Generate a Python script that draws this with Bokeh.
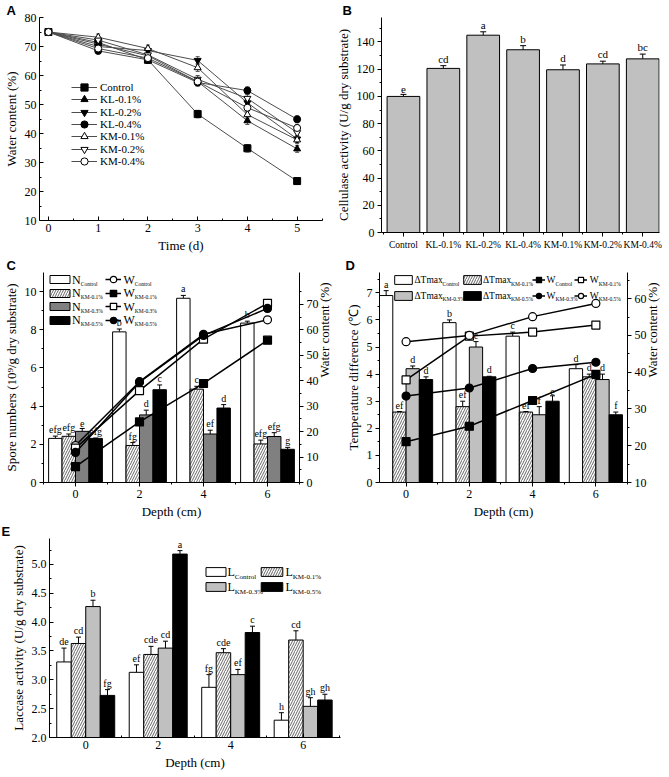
import math
from bokeh.plotting import figure
from bokeh.models import (ColumnDataSource, LinearAxis, Range1d, FixedTicker, Whisker,
                          TeeHead, Legend, LegendItem, Label, PrintfTickFormatter)
from bokeh.layouts import row, column
from bokeh.core.properties import value
from bokeh.embed import file_html
from bokeh.resources import INLINE

SERIF = "Liberation Serif"
SANS = "Liberation Sans"

# ---------------- Panel A data ----------------
time_days = [0, 1, 2, 3, 4, 5]
a_control = [75.0, 71.4, 65.4, 46.7, 34.9, 23.6]
a_kl01 = [75.0, 70.8, 66.8, 57.9, 44.4, 34.7]
a_kl02 = [75.0, 70.0, 68.6, 65.2, 50.6, 38.1]
a_kl04 = [75.0, 68.5, 65.4, 57.6, 54.8, 44.9]
a_km01 = [75.0, 73.2, 69.3, 62.7, 46.5, 37.8]
a_km02 = [75.0, 72.2, 67.1, 58.7, 52.1, 40.3]
a_km04 = [75.0, 69.3, 66.0, 57.9, 48.9, 41.9]
a_err = [0.4, 1.1, 1.2, 1.3, 1.3, 1.2]

# ---------------- Panel B data ----------------
b_treatments = ["Control", "KL-0.1%", "KL-0.2%", "KL-0.4%", "KM-0.1%", "KM-0.2%", "KM-0.4%"]
b_cellulase = [100.0, 120.6, 145.0, 134.3, 119.6, 123.9, 127.6]
b_err = [1.5, 2.0, 2.5, 3.0, 3.5, 2.0, 3.5]
b_letters = ["e", "cd", "a", "b", "d", "cd", "bc"]

# ---------------- Panel C data ----------------
depths = [0, 2, 4, 6]
c_n_control = [2.31, 7.89, 9.65, 8.35]
c_n_km01 = [2.42, 1.94, 4.89, 2.02]
c_n_km03 = [2.68, 3.54, 2.54, 2.41]
c_n_km05 = [2.31, 4.86, 3.90, 1.74]
c_err_control = [0.12, 0.15, 0.15, 0.10]
c_err_km01 = [0.12, 0.15, 0.15, 0.20]
c_err_km03 = [0.15, 0.25, 0.20, 0.20]
c_err_km05 = [0.02, 0.25, 0.18, 0.10]
c_let_control = ["efg", "b", "a", "b"]
c_let_km01 = ["efg", "fg", "c", "efg"]
c_let_km03 = ["e", "d", "ef", "efg"]
c_let_km05 = ["efg", "c", "d", "g"]
c_w_control = [14.5, 39.6, 58.2, 63.9]
c_w_km01 = [6.2, 23.8, 38.9, 55.9]
c_w_km03 = [13.5, 36.1, 56.3, 70.4]
c_w_km05 = [11.8, 39.4, 57.8, 68.4]

# ---------------- Panel D data ----------------
d_t_control = [6.9, 5.9, 5.4, 4.2]
d_t_km01 = [2.6, 2.8, 2.6, 3.9]
d_t_km03 = [4.2, 5.0, 2.5, 3.8]
d_t_km05 = [3.8, 3.9, 3.0, 2.5]
d_err_control = [0.18, 0.10, 0.15, 0.15]
d_err_km01 = [0.02, 0.20, 0.02, 0.10]
d_err_km03 = [0.10, 0.20, 0.30, 0.20]
d_err_km05 = [0.10, 0.02, 0.20, 0.10]
d_let_control = ["a", "b", "c", "d"]
d_let_km01 = ["ef", "ef", "ef", "d"]
d_let_km03 = ["d", "c", "f", "d"]
d_let_km05 = ["d", "d", "e", "f"]
d_w_control = [21.1, 25.3, 32.3, 39.4]
d_w_km01 = [37.9, 49.8, 50.9, 52.8]
d_w_km03 = [33.5, 35.7, 41.0, 42.7]
d_w_km05 = [48.3, 50.0, 55.1, 58.7]

# ---------------- Panel E data ----------------
e_l_control = [3.31, 3.13, 2.87, 2.30]
e_l_km01 = [3.63, 3.44, 3.47, 3.69]
e_l_km03 = [4.27, 3.55, 3.09, 2.54]
e_l_km05 = [2.73, 5.18, 3.82, 2.65]
e_err_control = [0.24, 0.13, 0.22, 0.13]
e_err_km01 = [0.11, 0.14, 0.07, 0.16]
e_err_km03 = [0.11, 0.12, 0.09, 0.15]
e_err_km05 = [0.10, 0.06, 0.11, 0.10]
e_let_control = ["de", "ef", "fg", "h"]
e_let_km01 = ["cd", "cde", "cde", "cd"]
e_let_km03 = ["b", "cd", "ef", "gh"]
e_let_km05 = ["fg", "a", "c", "gh"]


# ---------------- helpers ----------------
def base_fig(fw, fh, bl, br, bt, bb, xr, yr, letter, letter_dx=1):
    p = figure(frame_width=fw, frame_height=fh, min_border_left=bl, min_border_right=br,
               min_border_top=bt, min_border_bottom=bb,
               x_range=Range1d(*xr), y_range=Range1d(*yr),
               output_backend="svg", toolbar_location=None, tools="")
    p.outline_line_color = None
    p.xgrid.visible = False
    p.ygrid.visible = False
    p.background_fill_color = "white"
    p.border_fill_color = "white"
    # panel letter as the figure title, pushed into the left border
    p.title.text = letter
    p.title.text_font = SANS
    p.title.text_font_style = "bold"
    p.title.text_font_size = "13px"
    p.title.text_color = "black"
    p.title.align = "left"
    p.title.offset = -(bl - letter_dx)
    p.title.standoff = 0
    return p


def style_axis(ax, inward=True, label_size="12px", title_size="13px"):
    ax.axis_line_color = "black"
    ax.axis_line_width = 1
    ax.major_tick_line_color = "black"
    ax.minor_tick_line_color = "black"
    if inward:
        ax.major_tick_in, ax.major_tick_out = 4, 0
        ax.minor_tick_in, ax.minor_tick_out = 2, 0
    else:
        ax.major_tick_in, ax.major_tick_out = 0, 4
        ax.minor_tick_in, ax.minor_tick_out = 0, 2
    ax.major_label_text_font = SERIF
    ax.major_label_text_font_size = label_size
    ax.major_label_text_color = "black"
    ax.major_label_standoff = 3
    ax.axis_label_text_font = SERIF
    ax.axis_label_text_font_size = title_size
    ax.axis_label_text_font_style = "normal"
    ax.axis_label_text_color = "black"
    ax.axis_label_standoff = 3


def right_axis(p, ticks, minor):
    ax = LinearAxis(y_range_name="w", ticker=FixedTicker(ticks=ticks, minor_ticks=minor),
                    axis_label="Water content (%)")
    style_axis(ax, inward=False)
    try:
        ax.axis_label_orientation = math.pi / 2
    except Exception:
        pass
    p.add_layout(ax, "right")


HATCH = dict(fill_color="white", hatch_pattern="/", hatch_scale=5, hatch_weight=0.6, hatch_color="black")


def bar_group(p, offset, width, tops, errs, letters, bottom, style, letter_size="10px"):
    x = [d + offset for d in depths]
    src = ColumnDataSource(dict(x=x, top=tops, bottom=[bottom] * len(x),
                                upper=[t + e for t, e in zip(tops, errs)], letter=letters))
    r = p.vbar(x="x", top="top", bottom="bottom", width=width, source=src,
               line_color="black", line_width=1, **style)
    p.add_layout(Whisker(source=src, base="x", upper="upper", lower="top", lower_head=None,
                         upper_head=TeeHead(size=5, line_color="black", line_width=1),
                         line_color="black", line_width=1))
    p.text(x="x", y="upper", text="letter", source=src, text_font=value(SERIF),
           text_font_size=letter_size, text_align="center", text_baseline="bottom",
           y_offset=-1, text_color="black")
    return r


def w_line(p, vals, marker, fill, rng="w", size=8):
    src = ColumnDataSource(dict(x=depths, y=vals))
    lr = p.line("x", "y", source=src, line_color="black", line_width=1.5, y_range_name=rng)
    sr = p.scatter("x", "y", source=src, marker=marker, size=size, fill_color=fill,
                   line_color="black", line_width=1.2, y_range_name=rng)
    return [lr, sr]


def legend_item(p, renderers, cx, cy, gw, gh, label=" ", font_size="1px", standoff=0):
    # cx, cy: centre of the legend glyph, in px from the frame's top-left corner
    fh = p.frame_height
    lg = Legend(items=[LegendItem(label=label, renderers=renderers)],
                location=(cx - gw / 2, fh - cy - gh / 2),
                glyph_width=gw, glyph_height=gh, label_width=0, label_height=gh,
                label_standoff=standoff, padding=0, margin=0, spacing=0,
                label_text_font=SERIF, label_text_font_size=font_size, label_text_color="black",
                background_fill_alpha=0, border_line_alpha=0)
    p.add_layout(lg)


def legend_text(p, main, sub, x, cy, main_w, size=12, sub_size=5.5, drop=4):
    fh = p.frame_height
    p.add_layout(Label(x=x, y=fh - cy, x_units="screen", y_units="screen", text=main,
                       text_font=SERIF, text_font_size=f"{size}px", text_baseline="middle",
                       text_align="left", text_color="black"))
    p.add_layout(Label(x=x + main_w, y=fh - cy - drop, x_units="screen", y_units="screen", text=sub,
                       text_font=SERIF, text_font_size=f"{sub_size}px", text_baseline="middle",
                       text_align="left", text_color="black"))


# ================= Panel A =================
pA = base_fig(283, 203, 34, 10, 15, 35, (-0.18, 5.51), (10, 80), "A")
pA.xaxis.ticker = FixedTicker(ticks=time_days, minor_ticks=[0.5, 1.5, 2.5, 3.5, 4.5, 5.5])
pA.yaxis.ticker = FixedTicker(ticks=list(range(10, 81, 10)), minor_ticks=list(range(15, 80, 10)))
pA.xaxis.axis_label = "Time (d)"
pA.yaxis.axis_label = "Water content (%)"
style_axis(pA.xaxis[0])
style_axis(pA.yaxis[0])

a_series = [("Control", a_control, "square", "black"),
            ("KL-0.1%", a_kl01, "triangle", "black"),
            ("KL-0.2%", a_kl02, "inverted_triangle", "black"),
            ("KL-0.4%", a_kl04, "circle", "black"),
            ("KM-0.1%", a_km01, "triangle", "white"),
            ("KM-0.2%", a_km02, "inverted_triangle", "white"),
            ("KM-0.4%", a_km04, "circle", "white")]
for i, (name, vals, mk, fill) in enumerate(a_series):
    src = ColumnDataSource(dict(x=time_days, y=vals,
                                lo=[v - e for v, e in zip(vals, a_err)],
                                hi=[v + e for v, e in zip(vals, a_err)]))
    pA.add_layout(Whisker(source=src, base="x", lower="lo", upper="hi", line_color="#555555",
                          lower_head=TeeHead(size=4, line_color="#555555", line_width=1),
                          upper_head=TeeHead(size=4, line_color="#555555", line_width=1)))
    lr = pA.line("x", "y", source=src, line_color="#4d4d4d", line_width=1)
    sr = pA.scatter("x", "y", source=src, marker=mk, size=7, fill_color=fill,
                    line_color="black", line_width=1)
    legend_item(pA, [lr, sr], 45, 70 + 12.3 * i, 26, 18, label=name, font_size="11px", standoff=3)

# ================= Panel B =================
pB = base_fig(278, 215, 42, 3, 15, 23, (-0.55, 6.42), (0, 158), "B", letter_dx=3)
b_x = list(range(len(b_treatments)))
pB.xaxis.ticker = FixedTicker(ticks=b_x, minor_ticks=[i + 0.5 for i in range(-1, 7)])
pB.xaxis.major_label_overrides = {i: n for i, n in zip(b_x, b_treatments)}
pB.yaxis.ticker = FixedTicker(ticks=list(range(0, 141, 20)), minor_ticks=list(range(10, 151, 20)))
pB.yaxis.axis_label = "Cellulase activity (U/g dry substrate)"
style_axis(pB.xaxis[0], inward=False, label_size="9.5px")
style_axis(pB.yaxis[0], inward=False)
bsrc = ColumnDataSource(dict(x=b_x, top=b_cellulase,
                             upper=[t + e for t, e in zip(b_cellulase, b_err)], letter=b_letters))
pB.vbar(x="x", top="top", bottom=0, width=0.82, source=bsrc, fill_color="#c0c0c0",
        line_color="black", line_width=1)
pB.add_layout(Whisker(source=bsrc, base="x", upper="upper", lower="top", lower_head=None,
                      upper_head=TeeHead(size=6, line_color="black", line_width=1),
                      line_color="black", line_width=1))
pB.text(x="x", y="upper", text="letter", source=bsrc, text_font=value(SERIF), text_font_size="11px",
        text_align="center", text_baseline="bottom", y_offset=-1, text_color="black")

# ================= Panel C =================
pC = base_fig(256, 210, 38, 37, 15, 38, (-1, 7), (0, 11.0), "C")
pC.extra_y_ranges = {"w": Range1d(0, 82.5)}
pC.xaxis.ticker = FixedTicker(ticks=depths, minor_ticks=[-1, 1, 3, 5, 7])
pC.yaxis.ticker = FixedTicker(ticks=[0, 2, 4, 6, 8, 10], minor_ticks=[1, 3, 5, 7, 9])
pC.xaxis.axis_label = "Depth (cm)"
pC.yaxis.axis_label = "Spore numbers (10\u2079/g dry substrate)"
style_axis(pC.xaxis[0], inward=False)
style_axis(pC.yaxis[0], inward=False)
right_axis(pC, list(range(0, 71, 10)), list(range(5, 82, 10)))

W = 0.42
rc1 = bar_group(pC, -0.63, W, c_n_control, c_err_control, c_let_control, 0, dict(fill_color="white"))
rc2 = bar_group(pC, -0.21, W, c_n_km01, c_err_km01, c_let_km01, 0, HATCH)
rc3 = bar_group(pC, 0.21, W, c_n_km03, c_err_km03, c_let_km03, 0, dict(fill_color="#808080"))
rc4 = bar_group(pC, 0.63, W, c_n_km05, c_err_km05, c_let_km05, 0, dict(fill_color="black"))
lc1 = w_line(pC, c_w_control, "circle", "white")
lc2 = w_line(pC, c_w_km01, "square", "black")
lc3 = w_line(pC, c_w_km03, "square", "white")
lc4 = w_line(pC, c_w_km05, "circle", "black")

c_rows = [7.0, 20.5, 34.0, 47.5]
c_subs = ["Control", "KM-0.1%", "KM-0.3%", "KM-0.5%"]
for cy, rb, rl, sub in zip(c_rows, [rc1, rc2, rc3, rc4], [lc1, lc2, lc3, lc4], c_subs):
    legend_item(pC, [rb], 16.2, cy, 25, 10)
    legend_text(pC, "N", sub, 28.6, cy, 8.7)
    legend_item(pC, rl, 70.0, cy, 16, 18)
    legend_text(pC, "W", sub, 80.0, cy, 11.3)

# ================= Panel D =================
pD = base_fig(248, 210, 35, 37, 15, 38, (-0.84, 7.0), (0, 7.75), "D")
pD.extra_y_ranges = {"w": Range1d(10, 67.1)}
pD.xaxis.ticker = FixedTicker(ticks=depths, minor_ticks=[1, 3, 5, 7])
pD.yaxis.ticker = FixedTicker(ticks=list(range(0, 8)), minor_ticks=[0.5, 1.5, 2.5, 3.5, 4.5, 5.5, 6.5, 7.5])
pD.xaxis.axis_label = "Depth (cm)"
pD.yaxis.axis_label = "Temperature difference (\u2103)"
style_axis(pD.xaxis[0], inward=False)
style_axis(pD.yaxis[0], inward=False)
right_axis(pD, list(range(10, 61, 10)), list(range(15, 67, 10)))

rd1 = bar_group(pD, -0.63, W, d_t_control, d_err_control, d_let_control, 0, dict(fill_color="white"))
rd2 = bar_group(pD, -0.21, W, d_t_km01, d_err_km01, d_let_km01, 0, HATCH)
rd3 = bar_group(pD, 0.21, W, d_t_km03, d_err_km03, d_let_km03, 0, dict(fill_color="#c0c0c0"))
rd4 = bar_group(pD, 0.63, W, d_t_km05, d_err_km05, d_let_km05, 0, dict(fill_color="black"))
ld1 = w_line(pD, d_w_control, "square", "black")
ld2 = w_line(pD, d_w_km01, "square", "white")
ld3 = w_line(pD, d_w_km03, "circle", "black")
ld4 = w_line(pD, d_w_km05, "circle", "white")

d_rows = [7.5, 23.0]
d_bar_items = [[(rd1, "Control"), (rd2, "KM-0.1%")], [(rd3, "KM-0.3%"), (rd4, "KM-0.5%")]]
d_line_items = [[(ld1, "Control"), (ld2, "KM-0.1%")], [(ld3, "KM-0.3%"), (ld4, "KM-0.5%")]]
for cy, bars, lines in zip(d_rows, d_bar_items, d_line_items):
    for (rb, sub), cx, tx in zip(bars, [24.0, 92.5], [35.0, 103.5]):
        legend_item(pD, [rb], cx, cy, 22, 11)
        legend_text(pD, "\u0394Tmax", sub, tx, cy, 28.0, size=9.5, sub_size=5.5, drop=3.5)
    for (rl, sub), cx, tx in zip(lines, [159.0, 201.0], [167.0, 210.3]):
        legend_item(pD, rl, cx, cy, 13, 17)
        legend_text(pD, "W", sub, tx, cy, 9.0, size=9.5, sub_size=5.5, drop=3.5)

# ================= Panel E =================
pE = base_fig(291, 199, 49, 10, 15, 36, (-1.0, 7.03), (2.0, 5.45), "E")
pE.xaxis.ticker = FixedTicker(ticks=depths, minor_ticks=[-1, 1, 3, 5, 7])
pE.yaxis.ticker = FixedTicker(ticks=[2.0, 2.5, 3.0, 3.5, 4.0, 4.5, 5.0],
                              minor_ticks=[2.25, 2.75, 3.25, 3.75, 4.25, 4.75, 5.25])
pE.yaxis.formatter = PrintfTickFormatter(format="%.1f")
pE.xaxis.axis_label = "Depth (cm)"
pE.yaxis.axis_label = "Laccase activity (U/g dry substrate)"
style_axis(pE.xaxis[0])
style_axis(pE.yaxis[0])
WE = 0.4
re1 = bar_group(pE, -0.6, WE, e_l_control, e_err_control, e_let_control, 2.0, dict(fill_color="white"))
re2 = bar_group(pE, -0.2, WE, e_l_km01, e_err_km01, e_let_km01, 2.0, HATCH)
re3 = bar_group(pE, 0.2, WE, e_l_km03, e_err_km03, e_let_km03, 2.0, dict(fill_color="#c0c0c0"))
re4 = bar_group(pE, 0.6, WE, e_l_km05, e_err_km05, e_let_km05, 2.0, dict(fill_color="black"))
e_rows = [33.5, 48.5]
e_items = [[(re1, "Control"), (re2, "KM-0.1%")], [(re3, "KM-0.3%"), (re4, "KM-0.5%")]]
for cy, pair in zip(e_rows, e_items):
    for (rb, sub), cx, gw, tx in zip(pair, [166, 222], [25, 27], [178, 236]):
        legend_item(pE, [rb], cx, cy, gw, 11)
        legend_text(pE, "L", sub, tx, cy, 7.3, size=12, sub_size=7, drop=4.5)

layout = column(row(pA, pB), row(pC, pD), row(pE))
open("out.html", "w").write(file_html(layout, INLINE))
